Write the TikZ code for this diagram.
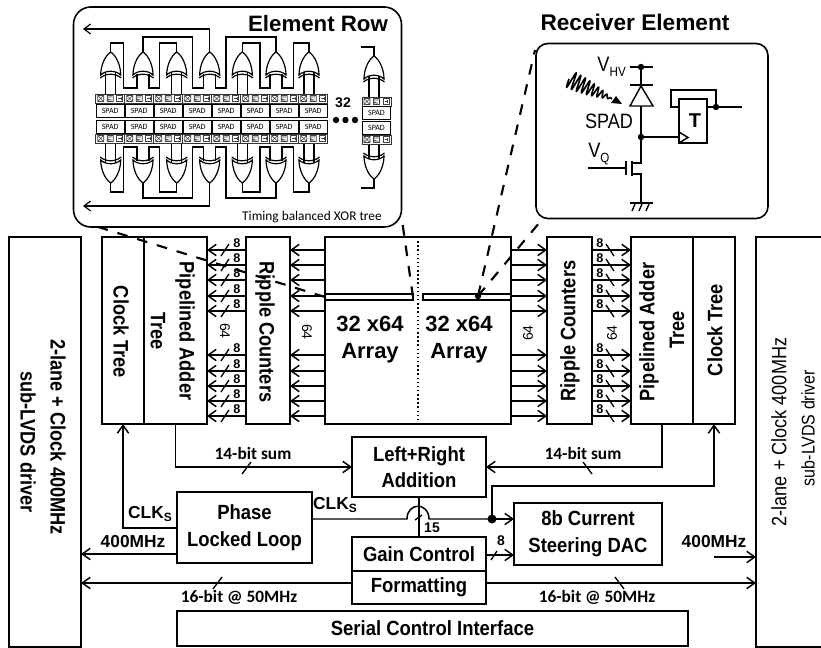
\documentclass[tikz,border=0pt]{standalone}
\usepackage{fontspec}
\setmainfont{Liberation Sans}
\newfontfamily\calfont{Carlito}
\newfontfamily\blockfam[FakeStretch=0.9]{Liberation Sans}
\newfontfamily\vfam[FakeStretch=0.87]{Liberation Sans}
\usetikzlibrary{arrows.meta}
\newcommand\fz[2]{\fontsize{#1}{#2}\selectfont}
\tikzset{
  blockbox/.style={draw,fill=white,line width=1.1pt,inner sep=0pt,outer sep=0pt,align=center,font=\blockfam\fz{15.4}{20}\bfseries},
  arr/.style={line width=1.1pt,-{Straight Barb[length=6pt,width=8.5pt,line width=1.1pt]}},
  wire/.style={line width=1.1pt},
  tick/.style={line width=1pt},
  dashline/.style={line width=1.6pt,dash pattern=on 8pt off 7.5pt},
  vtext/.style={font=\vfam\fz{15.7}{18}\bfseries,inner sep=0pt,align=center},
  drvtext/.style={font=\vfam\fz{15.6}{18},inner sep=0pt,align=center},
  arrtext/.style={font=\fz{16.5}{20.3}\bfseries,inner sep=0pt,align=center},
  eight/.style={font=\fz{9.5}{11}\bfseries,inner sep=0pt},
  sixfour/.style={font=\fz{10.5}{12},inner sep=0pt},
  cal/.style={font=\calfont\fz{13}{15}\bfseries,inner sep=0pt},
  ari/.style={font=\fz{13}{15}\bfseries,inner sep=0pt},
  spadcell/.style={draw,fill=white,line width=.6pt,minimum width=21pt,minimum height=9.8pt,inner sep=0pt,outer sep=0pt,font=\calfont\fz{6}{7}},
  tiny/.style={line width=.45pt,black!75},
  mini/.style={line width=.9pt},
  cktlabel/.style={inner sep=0pt},
}
\newcommand\blk[6]{\node[blockbox,minimum width={(#4-#2)*0.75pt},minimum height={(#5-#3)*0.75pt}] (#1) at ({(#2+#4)/2},{(#3+#5)/2}) {#6};}
% tiny strip of programming cells
\newcommand\strip[3]{%
  \foreach \i in {1,...,#3}{%
    \pgfmathsetmacro\X{#1+29*(\i-1)}%
    \fill[white] (\X,#2) rectangle ++(29,9);
    \draw[line width=.7pt,black!80] (\X,#2) rectangle ++(29,9);
    \draw[tiny] (\X+2,#2+1.5) rectangle ++(6,6) (\X+2,#2+1.5) -- ++(6,6) (\X+2,#2+7.5) -- ++(6,-6);
    \draw[tiny] (\X+11.5,#2+1.5) rectangle ++(6,6) (\X+11.5,#2+3) -- ++(5,0) (\X+11.5,#2+4.5) -- ++(3,1.5) (\X+16,#2+6) -- ++(-4,0);
    \draw[tiny] (\X+21,#2+1.5) rectangle ++(6,6) (\X+22.5,#2+4.5) -- ++(3,0) (\X+25.5,#2+3) -- ++(0,3);
  }}
% XOR gate: tip at (c,t)
\newcommand\xorg[2]{%
  \draw[mini,fill=white] (#1,#2) .. controls (#1+6,#2+4) and (#1+10,#2+14) .. (#1+10,#2+23)
     .. controls (#1+5,#2+18) and (#1-5,#2+18) .. (#1-10,#2+23)
     .. controls (#1-10,#2+14) and (#1-6,#2+4) .. (#1,#2) -- cycle;
  \draw[mini] (#1-10.5,#2+26) .. controls (#1-5,#2+21) and (#1+5,#2+21) .. (#1+10.5,#2+26);}
% one half of the XOR tree (drawn for y above the strip)
\newcommand\treehalf{%
  \foreach \c in {110.7,176.7,242.3,309,374}{%
    \draw[mini] (\c-5,70) -- (\c-5,97) (\c+5,70) -- (\c+5,97);}
  \draw[mini] (110.7,52) -- (110.7,43) -- (123.3,43) -- (123.3,88) -- (137,88) -- (137,74);
  \draw[mini] (176.7,52) -- (176.7,43) -- (159.3,43) -- (159.3,88) -- (149,88) -- (149,74);
  \draw[mini] (143,52) -- (143,37) -- (192.7,37) -- (192.7,88) -- (203.7,88) -- (203.7,74);
  \draw[mini] (276,52) -- (276,37) -- (226,37) -- (226,88) -- (215.7,88) -- (215.7,74);
  \draw[mini] (242.3,52) -- (242.3,43) -- (260,43) -- (260,88) -- (270,88) -- (270,74);
  \draw[mini] (309,52) -- (309,43) -- (293.3,43) -- (293.3,88) -- (282,88) -- (282,74);
  \draw[mini] (374,57) -- (374,47) -- (361,47);
  \draw[mini,-{Straight Barb[length=5pt,width=7.5pt,line width=.9pt]}] (209.7,52) -- (209.7,29) -- (83,29);
  \foreach \c in {110.7,143,176.7,209.7,242.3,276,309}{\xorg{\c}{52}}
  \xorg{374}{56}}
\begin{document}
\begin{tikzpicture}[x=0.75pt,y=-0.75pt]
\useasboundingbox (0,0) rectangle (821,648);
\fill[white] (0,0) rectangle (821,648);

% ---- main blocks
\blk{drvL}{9}{237}{81}{647}{}
\blk{drvR}{756}{237}{835}{647}{}
\blk{clkL}{102}{237}{144}{424}{}
\blk{patL}{144}{237}{207}{424}{}
\blk{rcL}{246}{237}{290}{424}{}
\blk{array}{325}{237}{511}{424}{}
\blk{rcR}{547}{237}{592}{424}{}
\blk{patR}{631}{237}{693}{424}{}
\blk{clkR}{693}{237}{735}{424}{}
\blk{add}{352}{437}{486}{497}{Left+Right\\Addition}
\blk{pll}{177}{492}{312}{563}{Phase\\Locked Loop}
\blk{dac}{514}{503}{662}{565}{8b Current\\Steering DAC}
\blk{gain}{352}{537}{486}{571}{Gain Control}
\blk{fmt}{352}{571}{486}{604}{Formatting}
\blk{ser}{177}{611}{688}{646}{Serial Control Interface}
\blk{slotL}{325}{294}{413}{300}{}
\blk{slotR}{423}{294}{511}{300}{}

\draw[line width=1.1pt,dotted] (array.north) -- (array.south);

% ---- rotated labels
\node[vtext,rotate=-90] (tdl1) at (58,437) {2-lane + Clock 400MHz};
\node[vtext,rotate=-90] (tdl2) at (28,442) {sub-LVDS driver};
\node[drvtext,rotate=90] (tdr1) at (779,432) {2-lane + Clock 400MHz};
\node[drvtext,rotate=90,font=\vfam\fz{13.8}{16}] (tdr2) at (808,428) {sub-LVDS driver};
\node[vtext,rotate=-90] (tcl) at (121,332) {Clock Tree};
\node[vtext,rotate=-90] (tpl1) at (185,331) {Pipelined Adder};
\node[vtext,rotate=-90] (tpl2) at (158,331) {Tree};
\node[vtext,rotate=-90] (trl) at (265,332) {Ripple Counters};
\node[vtext,rotate=90] (trr) at (570,331) {Ripple Counters};
\node[vtext,rotate=90] (tpr1) at (649,332) {Pipelined Adder};
\node[vtext,rotate=90] (tpr2) at (677,330) {Tree};
\node[vtext,rotate=90] (tcr) at (715,330) {Clock Tree};
\node[arrtext] (ta1) at (370,340) {32 x64\\Array};
\node[arrtext] (ta2) at (459,340) {32 x64\\Array};
\node[sixfour,rotate=-90] (s1) at (225,331) {64};
\node[sixfour,rotate=-90] (s2) at (307,332) {64};
\node[sixfour,rotate=90] (s3) at (528,333) {64};
\node[sixfour,rotate=90] (s4) at (612,333) {64};

% ---- array <-> counters <-> adders
\foreach \y/\k in {250/1,265/2,280/3,296/4,311/5,355/6,371/7,386/8,401/9,416/10}{
  \draw[arr] (array.west |- 0,\y) -- (rcL.east |- 0,\y);
  \draw[arr] (array.east |- 0,\y) -- (rcR.west |- 0,\y);
  \draw[arr] (rcL.west |- 0,\y) -- (patL.east |- 0,\y);
  \draw[arr] (rcR.east |- 0,\y) -- (patR.west |- 0,\y);
  \draw[tick] (221,\y+6) -- (229,\y-6);
  \draw[tick] (606,\y-6) -- (614,\y+6);
  \node[eight] (el\k) at (237,\y-7) {8};
  \node[eight] (er\k) at (600,\y-7) {8};
}

% ---- lower connectors
\draw[arr] (patL.south) |- (add.west);
\draw[arr] (patR.south) |- (add.east);
\draw[tick] (242,474) -- (251,462);
\draw[tick] (583,462) -- (592,474);
\node[cal] (s14l) at (253,453) {14-bit sum};
\node[cal] (s14r) at (583,453) {14-bit sum};
\draw[arr] (pll.west |- 0,528) -| (clkL.south);
\node[ari] (ck1) at (150,514) {CLK\fz{9}{10}\raisebox{-.5ex}{S}};
\draw[arr] (pll.west |- 0,554) -- (drvL.east |- 0,554);
\node[ari] (m1) at (133,542) {400MHz};
\draw[arr] (fmt.west |- 0,583) -- (drvL.east |- 0,583);
\draw[arr] (fmt.east |- 0,583) -- (drvR.west |- 0,583);
\draw[tick] (213,589) -- (222,577);
\draw[tick] (615,577) -- (624,589);
\node[cal] (b16l) at (239,597) {16-bit @ 50MHz};
\node[cal] (b16r) at (597,597) {16-bit @ 50MHz};
\coordinate (mright) at (714,557);
\draw[arr] (mright) -- (drvR.west |- mright);
\node[ari] (m2) at (714,542) {400MHz};
\draw[wire] (gain.north) -- (add.south);
\draw[tick] (415,520) -- (422,515);
\node[font=\fz{10.5}{12}\bfseries,inner sep=0pt] (n15) at (432,528) {15};
\coordinate (hopa) at (407,519);
\coordinate (hopb) at (429,519);
\coordinate (junct) at (492,519);
\draw[wire] (pll.east |- hopa) -- (hopa) .. controls (407,502) and (429,502) .. (hopb) -- (junct);
\draw[arr] (junct) -- (dac.west |- junct);
\fill (junct) circle (4.5);
\node[ari] (ck2) at (335,505) {CLK\fz{9}{10}\raisebox{-.5ex}{S}};
\draw[arr] (junct) |- (500,486) -| (clkR.south);
\draw[arr] (gain.east |- 0,555) -- (dac.west |- 0,555);
\draw[tick] (491,560) -- (497,551);
\node[font=\fz{10.5}{12}\bfseries,inner sep=0pt] (n8) at (501,541) {8};

% ---- zoom dashes
\coordinate (erA) at (82,222);
\coordinate (erB) at (402,220);
\coordinate (reA) at (535,50);
\coordinate (reB) at (545,216);
\coordinate (hitR) at (478,296);
\draw[dashline] (slotL.west) -- (erA);
\draw[dashline] (slotL.east) -- (erB);
\draw[dashline] (hitR) -- (reA);
\draw[dashline] (hitR) -- (reB);
\fill (hitR) circle (3.2);

% ---- Element Row inset
\node[draw,fill=white,line width=1.2pt,rounded corners=13pt,minimum width={328*0.75pt},minimum height={220*0.75pt},inner sep=0pt,outer sep=0pt] (er) at (237.5,117) {};
\node[font=\fz{16.7}{20}\bfseries,inner sep=0pt] (ertitle) at (318,24) {Element Row};
\node[font=\calfont\fz{10}{12},inner sep=0pt] (ersub) at (312,217) {Timing balanced XOR tree};
\treehalf
\begin{scope}[shift={(0,235)},yscale=-1]
  \treehalf
\end{scope}
\strip{95.7}{94}{8}
\strip{95.7}{134}{8}
\strip{362}{97}{1}
\strip{362}{135}{1}
\foreach \i in {0,...,7}{
  \node[spadcell] (sa\i) at ({95.7+14.5+29*\i},110.5) {SPAD};
  \node[spadcell] (sb\i) at ({95.7+14.5+29*\i},126.5) {SPAD};
}
\node[spadcell] (sc1) at (376.5,113) {SPAD};
\node[spadcell] (sc2) at (376.5,127.5) {SPAD};
\node[font=\fz{10.5}{12}\bfseries,inner sep=0pt] (n32) at (343,103) {32};
\foreach \x in {336,345.5,355}{\fill (\x,120) circle (3.2);}

% ---- Receiver Element inset
\node[font=\fz{17}{20}\bfseries,inner sep=0pt] (rtitle) at (635,22) {Receiver Element};
\node[draw,fill=white,line width=1.2pt,rounded corners=9pt,minimum width={232*0.75pt},minimum height={175*0.75pt},inner sep=0pt,outer sep=0pt] (re) at (652,131) {};
\draw[wire] (630,67) -- (653,67);
\draw[wire] (630,85) -- (653,85);
\draw[wire] (641,67) -- (641,163) -- (632,163);
\draw[wire,fill=white] (641,86) -- (653,106) -- (630,106) -- cycle;
\fill (641,67) circle (3.2);
\fill (641,137) circle (3.2);
\draw[wire] (632,161) -- (632,176);
\draw[wire] (632,174) -- (641,174) -- (641,203);
\draw[wire] (626,161) -- (626,175);
\draw[wire] (588,168) -- (626,168);
\draw[wire] (630,203) -- (653,203);
\foreach \x in {635,642,649}{\draw[tick] (\x,204) -- (\x-3,211);}
\node[blockbox,minimum width={28*0.75pt},minimum height={44*0.75pt}] (ff) at (693,121) {};
\node[font=\fz{15}{18}\bfseries,inner sep=0pt] (tt) at (695,121) {T};
\draw[wire] (679,132) -- (688,137.5) -- (679,143);
\draw[wire] (641,137) -- (679,137);
\draw[wire] (ff.east |- 0,107) -- (742,107);
\fill (716,107) circle (3.2);
\draw[wire] (716,107) -- (716,90) -- (671,90) -- (671,107) -- (ff.west |- 0,107);
\draw[line width=1.2pt] plot[domain=0:1,samples=240,smooth] ({569+43*\x-.422*8.5*(1-\x*\x)*sin(3240*\x)},{79+20*\x+.907*8.5*(1-\x*\x)*sin(3240*\x)});
\fill (611,103) -- (622,104) -- (616,96) -- cycle;
\node[cktlabel,anchor=base east,font=\vfam\fz{15.7}{18}] (vhv) at (626,72) {V\fz{10}{12}\raisebox{-.6ex}{HV}};
\node[cktlabel,font=\vfam\fz{15.6}{18}] (spad) at (609,121) {SPAD};
\node[cktlabel,anchor=base west,font=\vfam\fz{15.7}{18}] (vq) at (588,158) {V\fz{10}{12}\raisebox{-.6ex}{Q}};
\end{tikzpicture}
\end{document}
